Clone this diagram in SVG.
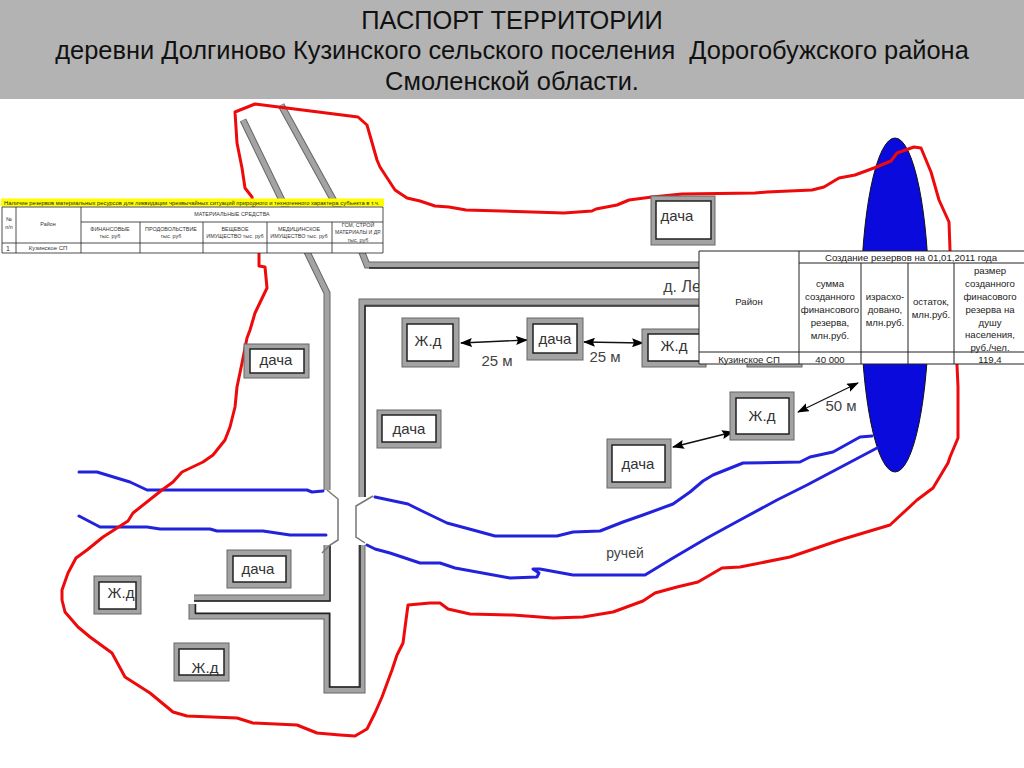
<svg xmlns="http://www.w3.org/2000/svg" width="1024" height="768" viewBox="0 0 1024 768">
<defs>
<marker id="ah" viewBox="0 0 12 9" refX="11" refY="4.500" markerWidth="12" markerHeight="9" orient="auto-start-reverse" markerUnits="userSpaceOnUse"><path d="M0,0L12,4.500L0,9L2,4.500Z" fill="#000"/></marker>
</defs>
<style>
text{font-family:"Liberation Sans",Arial,sans-serif}
.title{font-size:25.400px;fill:#111;text-anchor:middle;white-space:pre}
.lbl{font-size:15px;fill:#444;text-anchor:middle}
.nm{font-size:15px;fill:#333;text-anchor:middle}
.o{fill:#a3a3a3;stroke:#666;stroke-width:1}
.i{fill:#fff;stroke:#222;stroke-width:1.500}
.ro{fill:none;stroke:#666;stroke-width:7;stroke-linejoin:miter}
.rd{fill:none;stroke:#a3a3a3;stroke-width:5;stroke-linejoin:miter}
.re{fill:none;stroke:#222;stroke-width:1.500}
.br{fill:none;stroke:#777;stroke-width:1.500}
.red{fill:none;stroke:#ee0a0a;stroke-width:3;stroke-linejoin:round}
.bl{fill:none;stroke:#2222dd;stroke-width:3;stroke-linejoin:round;stroke-linecap:round}
.ar{fill:none;stroke:#111;stroke-width:1.300;marker-start:url(#ah);marker-end:url(#ah)}
.tl{fill:none;stroke:#222;stroke-width:.8}
.t1{font-size:5.400px;fill:#333;text-anchor:middle}
.t2{font-size:9.600px;fill:#222;text-anchor:middle}
</style>
<rect x="0" y="0" width="1024" height="99" fill="#b3b3b3"/>
<g id="title">
<text class="title" x="512" y="29">ПАСПОРТ ТЕРРИТОРИИ</text>
<text class="title" x="512" y="59">деревни Долгиново Кузинского сельского поселения  Дорогобужского района</text>
<text class="title" x="512" y="90">Смоленской области.</text>
</g>
<g id="lake"><ellipse cx="895" cy="305" rx="34" ry="167" fill="#0a0add" stroke="#111" stroke-width="1"/></g>
<g id="connectors">
<g id="roads">
<path class="ro" d="M243,120L327,293V490"/><path class="rd" d="M243,120L327,293V490"/>
<path class="ro" d="M281,105L361,250L367,265H700"/><path class="rd" d="M281,105L361,250L367,265H700"/>
<path class="re" d="M369,268H700"/>
<path class="ro" d="M700,302H362V497"/><path class="rd" d="M700,302H362V497"/>
<path class="re" d="M700,306H365V497"/>
<path class="ro" d="M327,545V598H194"/><path class="rd" d="M327,545V598H194"/>
<path class="re" d="M330,545V601H194"/>
<path class="ro" d="M362,545V690H327V616H192V604"/><path class="rd" d="M362,545V690H327V616H192V604"/>
<path class="re" d="M360,545V687H329.500V613.500H195.500V604"/>
</g>
<g id="bridge">
<path class="br" d="M327,490L338,499V540L330,545L322,553"/>
<path class="br" d="M373,496L356,506V537L365,543"/>
</g>
<g id="streams">
<path class="bl" d="M79,472L97,472L130,482L147,490L307,490L312,492L323,491"/>
<path class="bl" d="M79,516L100,527L147,527L160,529L210,529L217,531L263,531L290,535L326,535"/>
<path class="bl" d="M375,497L408,504L420,510L447,523L473,530L495,536L557,536L573,532L600,531L623,522L643,515L673,504L690,492L703,481L713,475L743,463L800,462L810,457L833,452L860,437L872,436"/>
<path class="bl" d="M367,545L375,549L390,553L420,563L440,563L455,568L510,578L537,577L539,573L533,569L540,569L573,575L645,575L673,558L707,538L740,520L777,500L807,485L877,448"/>
</g>
<g id="boundary">
<path class="red" d="M235,112L255,104L358,117L367,125L377,160L380,167L395,190L407,198L420,201L435,206L449,207L466,210L564,213L592,211L596,209L617,205L629,200L652,197L682,194L755,193L767,192L812,190L824,187L839,178L855,175L874,168L891,161L897,153L914,147L921,148L931,172L939,200L949,222L950,250L957,365L958,387L958,438L950,457L948,463L933,488L917,500L890,525L840,540L790,557L740,567L722,568L698,582L677,587L655,593L643,601L613,612L583,617L553,618L513,615L470,614L448,609L440,603L430,603L408,605L406,620L403,643L397,655L392,670L382,697L375,713L367,729L355,736L340,735L317,733L297,725L253,723L237,718L187,716L173,712L150,693L125,677L112,653L90,637L78,627L65,612L62,600L62,590L68,573L76,558L87,550L103,537L128,521L133,513L162,490L173,482L182,472L203,462L213,455L225,440L230,427L235,407L237,387L242,363L247,338L250,330L255,313L267,288L265,267L259,266L259,250L252,197L245,188L242,168L237,143Z"/>
</g>
<g id="arrows">
<path class="ar" d="M461,343L527,340"/>
<path class="ar" d="M584,342L643,343"/>
<path class="ar" d="M798,412L858,383"/>
<path class="ar" d="M673,447L733,432"/>
</g>
</g>
<g id="n1"><rect class="o" x="651" y="196" width="64" height="49"/><rect class="i" x="656" y="201" width="55" height="38"/><text class="nm" x="677" y="221">дача</text></g>
<g id="n2"><rect class="o" x="244" y="344" width="65" height="34"/><rect class="i" x="250" y="349" width="54" height="24"/><text class="nm" x="276" y="365">дача</text></g>
<g id="n3"><rect class="o" x="402" y="318" width="57" height="49"/><rect class="i" x="407" y="324" width="46" height="37"/><text class="nm" x="428" y="346">Ж.д</text></g>
<g id="n4"><rect class="o" x="527" y="318" width="56" height="42"/><rect class="i" x="533" y="324" width="44" height="29"/><text class="nm" x="555" y="344">дача</text></g>
<g id="n5"><rect class="o" x="642" y="329" width="64" height="38"/><rect class="i" x="648" y="334" width="58" height="27"/><text class="nm" x="674" y="351">Ж.д</text></g>
<g id="n5b"><rect class="o" x="747" y="340" width="55" height="27"/></g>
<g id="n6"><rect class="o" x="377" y="410" width="64" height="38"/><rect class="i" x="382" y="415" width="54" height="27"/><text class="nm" x="409" y="434">дача</text></g>
<g id="n7"><rect class="o" x="730" y="392" width="64" height="48"/><rect class="i" x="736" y="398" width="53" height="36"/><text class="nm" x="762" y="421">Ж.д</text></g>
<g id="n8"><rect class="o" x="607" y="439" width="64" height="49"/><rect class="i" x="612" y="445" width="53" height="37"/><text class="nm" x="638" y="469">дача</text></g>
<g id="n9"><rect class="o" x="227" y="550" width="64" height="38"/><rect class="i" x="233" y="556" width="53" height="26"/><text class="nm" x="258" y="574">дача</text></g>
<g id="n10"><rect class="o" x="94" y="576" width="47" height="38"/><rect class="i" x="99" y="582" width="37" height="27"/><text class="nm" x="121" y="598">Ж.д</text></g>
<g id="n11"><rect class="o" x="174" y="643" width="55" height="38"/><rect class="i" x="179" y="649" width="45" height="26"/><text class="nm" x="205" y="673">Ж.д</text></g>
<g id="labels">
<text class="lbl" x="497" y="366">25 м</text>
<text class="lbl" x="605" y="362">25 м</text>
<text class="lbl" x="841" y="411">50 м</text>
<text class="lbl" x="682" y="292" style="font-size:16px">д. Ле</text>
<text class="lbl" x="625" y="558" style="font-size:14px">ручей</text>
</g>
<g id="table1">
<rect x="1" y="198.500" width="383" height="8" fill="#ffff00"/>
<rect x="2" y="207" width="381" height="46" fill="#fff"/>
<path class="tl" d="M2,207H383V253H2ZM16,207V253M81,207V253M81,222H383M2,243H383M140,222V253M203,222V253M267,222V253M332,222V253"/>
<text x="4" y="204.500" style="font-size:5.850px;fill:#222">Наличие резервов материальных ресурсов для ликвидации чрезвычайных ситуаций природного и техногенного характера субъекта в т.ч.</text>
<text class="t1" x="9" y="221">№</text><text class="t1" x="9" y="229">п/п</text>
<text class="t1" x="48" y="226">Район</text>
<text class="t1" x="232" y="216">МАТЕРИАЛЬНЫЕ СРЕДСТВА</text>
<text class="t1" x="110" y="231">ФИНАНСОВЫЕ</text><text class="t1" x="110" y="238">тыс. руб</text>
<text class="t1" x="171" y="231">ПРОДОВОЛЬСТВИЕ</text><text class="t1" x="171" y="238">тыс. руб</text>
<text class="t1" x="235" y="231">ВЕЩЕВОЕ</text><text class="t1" x="235" y="238">ИМУЩЕСТВО тыс. руб</text>
<text class="t1" x="299" y="231">МЕДИЦИНСКОЕ</text><text class="t1" x="299" y="238">ИМУЩЕСТВО тыс. руб</text>
<text class="t1" x="358" y="227">ГСМ, СТРОЙ</text><text class="t1" x="358" y="234" style="font-size:5.100px">МАТЕРИАЛЫ И ДР.</text><text class="t1" x="358" y="242">тыс. руб</text>
<text class="t1" x="8" y="251" style="font-size:7px">1</text>
<text class="t1" x="48" y="250" style="font-size:6px">Кузинское СП</text>
</g>
<g id="table2">
<rect x="699" y="251" width="326" height="113" fill="#fff"/>
<path class="tl" d="M699,251H1025M699,251V364H1025M799,251V364M799,263H1025M699,352H1025M861,263V364M908,263V364M954,263V364" style="stroke-width:1"/>
<text class="t2" x="911" y="261">Создание резервов на 01,01,2011 года</text>
<text class="t2" x="749" y="305">Район</text>
<text class="t2" x="830" y="287">сумма</text><text class="t2" x="830" y="300">созданного</text><text class="t2" x="830" y="313">финансового</text><text class="t2" x="830" y="326">резерва,</text><text class="t2" x="830" y="339">млн.руб.</text>
<text class="t2" x="885" y="300">израсхо-</text><text class="t2" x="885" y="313">довано,</text><text class="t2" x="885" y="326">млн.руб.</text>
<text class="t2" x="931" y="305">остаток,</text><text class="t2" x="931" y="318">млн.руб.</text>
<text class="t2" x="990" y="274">размер</text><text class="t2" x="990" y="287">созданного</text><text class="t2" x="990" y="300">финасового</text><text class="t2" x="990" y="313">резерва на</text><text class="t2" x="990" y="326">душу</text><text class="t2" x="990" y="338">населения,</text><text class="t2" x="990" y="351">руб./чел.</text>
<text class="t2" x="749" y="363">Кузинское СП</text>
<text class="t2" x="830" y="363">40 000</text>
<text class="t2" x="990" y="363">119,4</text>
</g>
</svg>
